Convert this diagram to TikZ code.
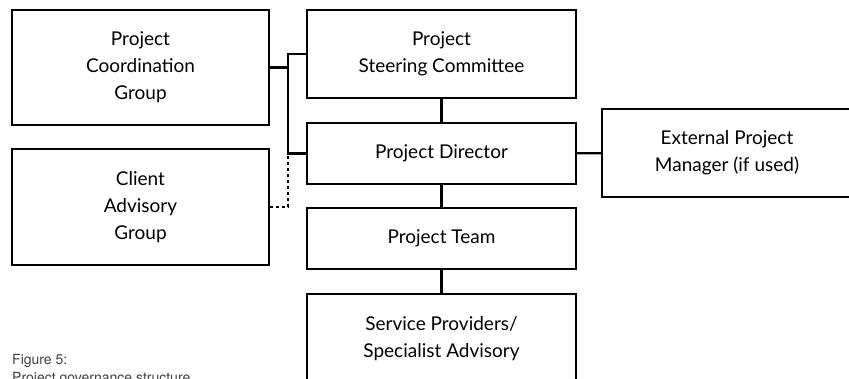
\documentclass[tikz,border=0pt]{standalone}
\usepackage{fontspec}
\setmainfont{Lato}
\newfontfamily\capfont{TeX Gyre Heros}
\usepackage{xcolor}
\usetikzlibrary{positioning,calc}

\begin{document}
\begin{tikzpicture}[x=1pt, y=-1pt,
    box/.style={rectangle, draw=black, line width=1.3pt, fill=white, align=center, font=\fontsize{19}{27}\selectfont, inner sep=0pt},
    link/.style={line width=2.2pt, draw=black},
    dotlink/.style={line width=2.2pt, draw=black, dash pattern=on 3pt off 3pt}
]
    \useasboundingbox (0,0) rectangle (849,379);

    \node (pcg) [box, minimum width=257pt, minimum height=115pt] at (140.5,67.5) {Project\\Coordination\\Group};
    \node (cag) [box, minimum width=257pt, minimum height=116pt] at (140.5,207) {Client\\Advisory\\Group};
    \node (psc) [box, minimum width=269pt, minimum height=88pt] at (441.5,54) {Project\\Steering Committee};
    \node (pd) [box, minimum width=269pt, minimum height=61pt] at (441.5,153.5) {Project Director};
    \node (pt) [box, minimum width=269pt, minimum height=61pt] at (441.5,238.5) {Project Team};
    \node (spa) [box, minimum width=269pt, minimum height=90pt] at (441.5,339) {Service Providers/\\Specialist Advisory};
    \node (epm) [box, minimum width=250pt, minimum height=88pt] at (727,153) {External Project\\Manager (if used)};

    \coordinate (j) at (288,67.5);

    \draw [link] (pcg.east) -- (j);
    \draw [link] (psc.west) -| (j) |- (pd.west);
    \draw [dotlink] (cag.east) -| (j |- pd.west);
    \draw [link] (psc) -- (pd);
    \draw [link] (pd) -- (pt);
    \draw [link] (pt) -- (spa);
    \draw [link] (pd) -- (epm);

    \node (cap) [anchor=north west, align=left, inner sep=0pt, text=black!75, font=\capfont\fontsize{14}{18.5}\selectfont] at (12,354) {Figure 5:\\Project governance structure};
\end{tikzpicture}
\end{document}
